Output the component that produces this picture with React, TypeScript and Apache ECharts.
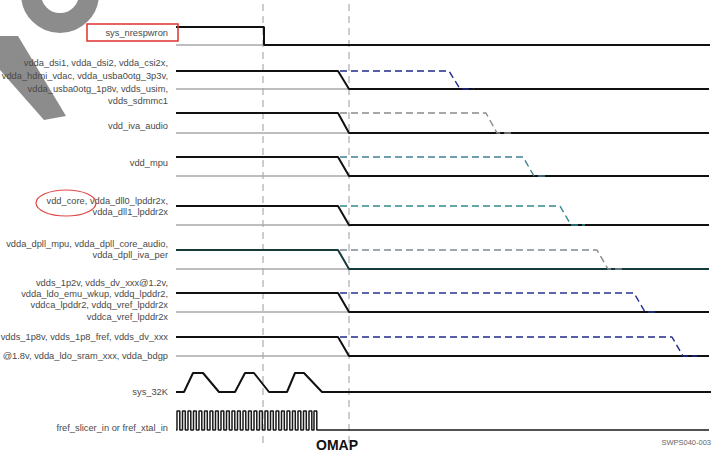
import React, { useEffect, useRef } from "react";
import * as echarts from "echarts";

// ---- Data (time units on x, level units on y) ----
const rowLabels: string[][] = [
  ["sys_nrespwron"],
  ["vdda_dsi1, vdda_dsi2, vdda_csi2x,", "vdda_hdmi_vdac, vdda_usba0otg_3p3v,", "vdda_usba0otg_1p8v, vdds_usim,", "vdds_sdmmc1"],
  ["vdd_iva_audio"],
  ["vdd_mpu"],
  ["vdd_core, vdda_dll0_lpddr2x,", "vdda_dll1_lpddr2x"],
  ["vdda_dpll_mpu, vdda_dpll_core_audio,", "vdda_dpll_iva_per"],
  ["vdds_1p2v, vdds_dv_xxx@1.2v,", "vdda_ldo_emu_wkup, vddq_lpddr2,", "vddca_lpddr2, vddq_vref_lpddr2x", "vddca_vref_lpddr2x"],
  ["vdds_1p8v, vdds_1p8_fref, vdds_dv_xxx", "@1.8v, vdda_ldo_sram_xxx, vdda_bdgp"],
  ["sys_32K"],
  ["fref_slicer_in or fref_xtal_in"],
];
const labelY: number[][] = [
  [33],
  [63, 76, 89, 101],
  [126],
  [163],
  [201, 212],
  [244, 255],
  [283, 294, 305, 317],
  [337, 356],
  [392],
  [428],
];
const highLevel = [27, 71, 113, 157, 206, 250, 293, 337, 373, 411];
const lowLevel = [45, 89, 133, 176, 225, 269, 312, 356, 392, 430];

const tStart = 176;
const tEnd = 710;
const tNrespwron = 264;
const tOmapFallStart = 338;
const tOmapFallEnd = 349;
const tDashStart = 340;
const markerTimes = [263, 349];
// ramp start of each supply (dashed) for rows 2..8
const rampStart = [449, 486, 523, 560, 597, 634, 672];
const rampDur = 11;
const rampTail = 14;
const dashColors = ["#1f2a8c", "#8a8a8a", "#3f7f95", "#2f8a8a", "#7f8a92", "#26338f", "#1f2a8c"];

// sys_32K waveform: times and state (1 = high, 0 = low)
const clkTimes = [176, 184, 193, 203, 219, 235, 245, 254, 269, 287, 295, 304, 322, 711];
const clkState = [0, 0, 1, 1, 0, 0, 1, 1, 0, 0, 1, 1, 0, 0];

// fref: rising edge times of each pulse
const frefRise = [177, 182.5, 188, 193.5, 199, 204.5, 210, 215.5, 221, 226.5, 232, 237.5, 243, 248.5, 254, 259.5, 265, 270.5, 276, 281.5, 287, 292.5, 298, 303.5, 309, 314];
const frefHigh = 2.8;
const frefStop = 319;

const FONT = '"Liberation Sans", Arial, Helvetica, sans-serif';

export default function App() {
  const ref = useRef<HTMLDivElement>(null);
  useEffect(() => {
    if (!ref.current) return;
    const chart = echarts.init(ref.current, undefined, { renderer: "svg" });

    const series: any[] = [];
    const solid = { color: "#111", width: 2 };
    const base = { color: "#a8a8a8", width: 1.5 };

    const line = (data: number[][], style: any, z = 3) => ({
      type: "line",
      data,
      symbol: "none",
      silent: true,
      z,
      lineStyle: style,
    });

    // vertical markers
    markerTimes.forEach((t) => {
      series.push(line([[t, 4], [t, 445]], { color: "#bdbdbd", width: 1.5, type: [7, 5] }, 1));
    });

    // sys_nrespwron
    series.push(line([[tStart, lowLevel[0]], [tNrespwron, lowLevel[0]]], base, 2));
    series.push(line([[tStart, highLevel[0]], [tNrespwron, highLevel[0]], [tNrespwron, lowLevel[0]], [tEnd, lowLevel[0]]], solid));

    // supplies
    for (let r = 1; r <= 7; r++) {
      const hi = highLevel[r];
      const lo = lowLevel[r];
      series.push(line([[tStart, lo], [tOmapFallEnd, lo]], base, 2));
      series.push(line([[tStart, hi], [tOmapFallStart, hi], [tOmapFallEnd, lo], [tEnd - 1, lo]], r === 5 ? { color: "#163a3a", width: 2 } : solid, 3));
      const rs = rampStart[r - 1];
      series.push(
        line(
          [[tDashStart, hi], [rs, hi], [rs + rampDur, lo], [rs + rampDur + rampTail, lo]],
          { color: dashColors[r - 1], width: 1.4, type: [7, 4] },
          4
        )
      );
    }

    // sys_32K
    series.push(line(clkTimes.map((t, i) => [t, clkState[i] ? highLevel[8] : lowLevel[8]]), solid));

    // fref
    const fr: number[][] = [[tStart, lowLevel[9]]];
    frefRise.forEach((t) => {
      fr.push([t, lowLevel[9]], [t, highLevel[9]], [t + frefHigh, highLevel[9]], [t + frefHigh, lowLevel[9]]);
    });
    fr.push([frefStop, lowLevel[9]], [tEnd - 1, lowLevel[9]]);
    series.push(line(fr, { color: "#1a1a1a", width: 1.5 }));

    const graphics: any[] = [];
    // watermark fragment
    graphics.push({
      type: "arc",
      shape: { cx: 60, cy: -6, r: 29, startAngle: 0, endAngle: Math.PI, clockwise: true },
      style: { stroke: "#8c8c8c", lineWidth: 20, fill: "none" },
      z: 0,
    });
    graphics.push({
      type: "polygon",
      shape: { points: [[0, 36], [18, 36], [66, 116], [44, 120], [0, 70]] },
      style: { fill: "#8c8c8c" },
      z: 0,
    });

    rowLabels.forEach((lines, r) => {
      lines.forEach((txt, k) => {
        graphics.push({
          type: "text",
          x: 168,
          y: labelY[r][k],
          z: 10,
          style: { text: txt, fill: "#4a4a4a", font: `9.3px ${FONT}`, align: "right", verticalAlign: "middle" },
        });
      });
    });

    graphics.push({
      type: "rect",
      shape: { x: 87, y: 24, width: 91, height: 17 },
      style: { stroke: "#e0302f", lineWidth: 1.5, fill: "none" },
      z: 10,
    });
    graphics.push({
      type: "ellipse",
      shape: { cx: 66, cy: 203, rx: 30, ry: 13 },
      style: { stroke: "#e04848", lineWidth: 1.2, fill: "none" },
      z: 10,
    });
    graphics.push({
      type: "text",
      x: 337,
      y: 445,
      z: 10,
      style: { text: "OMAP", fill: "#111", font: `bold 14px ${FONT}`, align: "center", verticalAlign: "middle" },
    });
    graphics.push({
      type: "text",
      x: 711,
      y: 442,
      z: 10,
      style: { text: "SWPS040-003", fill: "#666", font: `7.5px ${FONT}`, align: "right", verticalAlign: "middle" },
    });

    chart.setOption({
      animation: false,
      backgroundColor: "#ffffff",
      grid: { left: 0, right: 0, top: 0, bottom: 0 },
      xAxis: { type: "value", min: 0, max: 719, show: false },
      yAxis: { type: "value", min: 0, max: 458, inverse: true, show: false },
      series,
      graphic: graphics,
    });
    return () => chart.dispose();
  }, []);
  return <div ref={ref} style={{ position: "fixed", left: 0, top: 0, width: 719, height: 458 }} />;
}
